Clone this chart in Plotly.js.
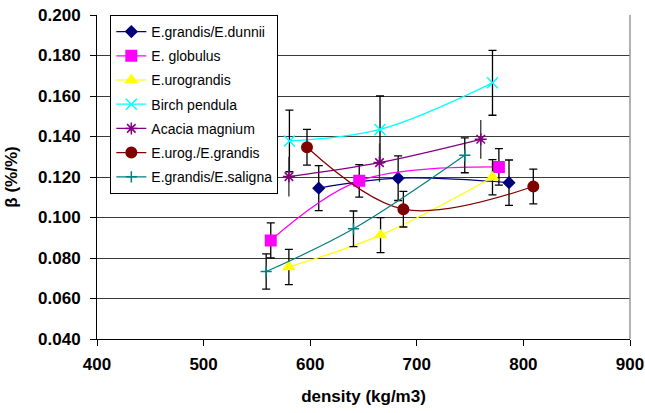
<!DOCTYPE html>
<html>
<head>
<meta charset="utf-8">
<script src="https://cdn.plot.ly/plotly-3.0.1.min.js"></script>
<style>html,body{margin:0;padding:0;background:#fff;}#chart{width:645px;height:413px;}</style>
</head>
<body>
<div id="chart"></div>
<script>
// Series names
const seriesNames = ["E.grandis/E.dunnii", "E. globulus", "E.urograndis", "Birch pendula", "Acacia magnium", "E.urog./E.grandis", "E.grandis/E.saligna"];

// E.grandis/E.dunnii
const densDunnii = [608, 682.5, 786.5];
const betaDunnii = [0.1145, 0.1194, 0.1172];
const errDunnii  = [0.0111, 0.0110, 0.0112];
// E. globulus
const densGlobulus = [563, 646, 777];
const betaGlobulus = [0.0887, 0.1181, 0.1250];
const errGlobulus  = [0.0086, 0.0080, 0.0090];
// E.urograndis
const densUrograndis = [580, 666, 771];
const betaUrograndis = [0.0756, 0.0913, 0.1199];
const errUrograndis  = [0.0087, 0.0086, 0.0087];
// Birch pendula
const densBirch = [580.5, 665.5, 771];
const betaBirch = [0.1378, 0.1435, 0.1665];
const errBirch  = [0.0152, 0.0165, 0.0160];
// Acacia magnium
const densAcacia = [580, 665, 760];
const betaAcacia = [0.1202, 0.1271, 0.1386];
const errAcacia  = [0.0098, 0.0095, 0.0096];
// E.urog./E.grandis
const densUrog = [597, 687.4, 809.3];
const betaUrog = [0.1347, 0.1041, 0.1153];
const errUrog  = [0.0088, 0.0088, 0.0086];
// E.grandis/E.saligna
const densSaligna = [558.7, 640.6, 745];
const betaSaligna = [0.0733, 0.0944, 0.1307];
const errSaligna  = [0.0087, 0.0088, 0.0086];

// Axis ticks
const xTicks = [400, 500, 600, 700, 800, 900];
const yTicks = [0.04, 0.06, 0.08, 0.10, 0.12, 0.14, 0.16, 0.18, 0.20];

function mk(name, x, y, err, color, symbol, size, capW, errColor) {
  return {
    type: 'scatter', mode: 'lines+markers', name: name, legendgroup: name,
    x: x, y: y,
    line: {color: color, width: 1.2, shape: 'spline', smoothing: 1},
    marker: {color: color, symbol: symbol, size: size, line: {color: color, width: 1.5}},
    error_y: {type: 'data', array: err, visible: true, color: errColor || '#000', thickness: 1.3, width: capW}
  };
}

const data = [
  mk(seriesNames[0], densDunnii, betaDunnii, errDunnii, '#000080', 'diamond', 8.5, 4),
  mk(seriesNames[1], densGlobulus, betaGlobulus, errGlobulus, '#FF00FF', 'square', 10.5, 4),
  mk(seriesNames[2], densUrograndis, betaUrograndis, errUrograndis, '#FFFF00', 'triangle-up', 10, 4),
  mk(seriesNames[3], densBirch, betaBirch, errBirch, '#00FFFF', 'x-thin-open', 11, 4),
  mk(seriesNames[4], densAcacia, betaAcacia, errAcacia, '#800080', 'asterisk-open', 10, 0, '#333'),
  mk(seriesNames[5], densUrog, betaUrog, errUrog, '#800000', 'circle', 10.5, 4),
  mk(seriesNames[6], densSaligna, betaSaligna, errSaligna, '#008080', 'cross-thin-open', 8, 4)
];

const boldFont = {size: 17, family: 'Liberation Sans, Arial, sans-serif', weight: 700, color: '#000'};

const layout = {
  width: 645, height: 413,
  margin: {l: 97, r: 15, t: 15, b: 74},
  paper_bgcolor: '#fff', plot_bgcolor: '#fff',
  font: {family: 'Liberation Sans, Arial, sans-serif', color: '#000'},
  showlegend: true,
  legend: {
    x: 0.025, y: 1.0, xanchor: 'left', yanchor: 'top',
    bgcolor: '#fff', bordercolor: '#000', borderwidth: 1,
    font: {size: 14, family: 'Liberation Sans, Arial, sans-serif', color: '#000', weight: 400},
    traceorder: 'grouped', tracegroupgap: 3
  },
  xaxis: {
    range: [400, 900], tickvals: xTicks, ticktext: xTicks.map(String),
    showgrid: false, zeroline: false,
    showline: true, linecolor: '#000', linewidth: 1,
    ticks: 'outside', ticklen: 6, tickcolor: '#000',
    ticklabelstandoff: 4,
    tickfont: boldFont,
    title: {text: 'density (kg/m3)', font: boldFont, standoff: 16}
  },
  yaxis: {
    range: [0.04, 0.2], tickvals: yTicks, ticktext: yTicks.map(v => v.toFixed(3)),
    showgrid: true, gridcolor: '#3a3a3a', gridwidth: 1, zeroline: false,
    showline: true, linecolor: '#000', linewidth: 1,
    ticks: 'outside', ticklen: 6, tickcolor: '#000',
    ticklabelstandoff: 6,
    tickfont: boldFont,
    title: {text: 'β (%/%)', font: boldFont, standoff: 16}
  },
  shapes: [
    {type: 'line', xref: 'paper', yref: 'paper', x0: 1, x1: 1, y0: 0, y1: 1, line: {color: '#999', width: 1.5}}
  ]
};

Plotly.newPlot('chart', data, layout, {staticPlot: true, displayModeBar: false});
</script>
</body>
</html>
